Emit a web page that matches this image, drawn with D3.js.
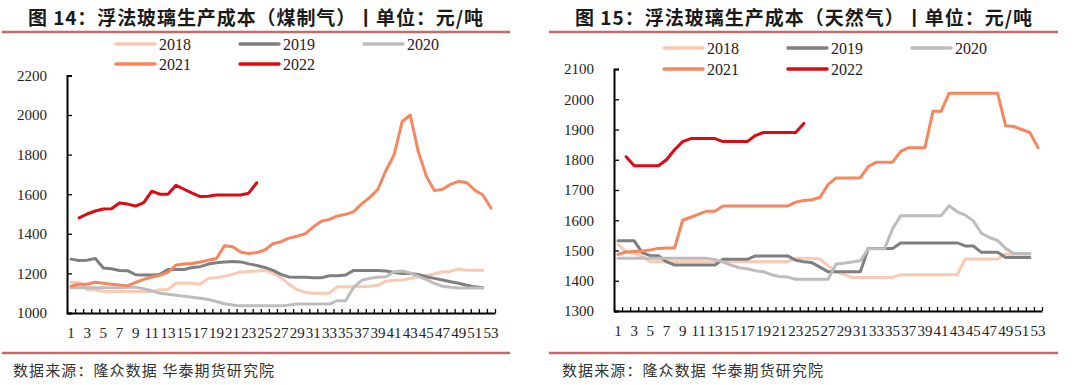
<!DOCTYPE html>
<html><head><meta charset="utf-8">
<script src="https://cdn.jsdelivr.net/npm/d3@7"></script>
<style>body{margin:0;background:#fff} svg{display:block}</style>
</head><body><svg id="c" width="1080" height="385"></svg>
<script>
// ---------- data ----------
const weeks = d3.range(1, 54);               // week numbers 1..53
const xTickWeeks = weeks.filter(w => w % 2 === 1);
const seriesNames = ["2018", "2019", "2020", "2021", "2022"];

// 图14 煤制气
const coalYTicks = [1000, 1200, 1400, 1600, 1800, 2000, 2200];
const coal2018 = [1155,1153,1118,1116,1110,1108,1108,1108,1108,1108,1108,1118,1118,1150,1152,1150,1145,1175,1178,1185,1195,1207,1209,1212,1215,1200,1180,1145,1118,1105,1100,1100,1100,1133,1133,1133,1133,1135,1140,1160,1165,1167,1175,1183,1190,1197,1208,1210,1222,1216,1216,1216];
const coal2019 = [1272,1265,1267,1275,1227,1223,1215,1214,1193,1192,1192,1195,1220,1220,1220,1230,1234,1247,1254,1258,1260,1258,1248,1240,1230,1215,1195,1182,1180,1180,1178,1178,1188,1188,1192,1215,1215,1215,1215,1212,1205,1200,1200,1195,1183,1175,1167,1158,1150,1140,1132,1128];
const coal2020 = [1128,1128,1128,1128,1128,1128,1128,1130,1130,1122,1112,1100,1095,1090,1085,1080,1075,1068,1058,1047,1040,1036,1036,1036,1036,1036,1036,1040,1045,1045,1045,1045,1045,1062,1062,1130,1165,1175,1180,1183,1208,1212,1202,1185,1168,1150,1135,1130,1126,1126,1126,1126];
const coal2021 = [1135,1145,1145,1155,1150,1145,1142,1137,1155,1170,1182,1190,1205,1242,1247,1250,1258,1266,1275,1340,1335,1308,1300,1305,1318,1350,1360,1378,1388,1400,1435,1463,1473,1490,1498,1512,1552,1584,1625,1720,1798,1966,2000,1815,1690,1618,1625,1650,1665,1658,1620,1596,1530];
const coal2022 = [null,1480,1500,1515,1525,1527,1555,1550,1540,1557,1615,1600,1600,1645,1625,1605,1588,1590,1596,1596,1596,1596,1605,1658];

// 图15 天然气
const gasYTicks = [1300, 1400, 1500, 1600, 1700, 1800, 1900, 2000, 2100];
const gas2018 = [1520,1496,1490,1482,1463,1463,1463,1463,1463,1463,1463,1463,1463,1463,1463,1463,1463,1463,1463,1463,1463,1463,1474,1474,1474,1472,1450,1430,1420,1411,1411,1411,1411,1411,1411,1420,1420,1420,1420,1420,1420,1420,1420,1472,1472,1472,1472,1472,1488,1488,1488,1488];
const gas2019 = [1532,1532,1532,1493,1483,1483,1463,1452,1452,1452,1452,1452,1452,1471,1471,1471,1471,1482,1482,1482,1482,1482,1468,1463,1460,1445,1430,1430,1430,1430,1430,1507,1507,1507,1507,1525,1525,1525,1525,1525,1525,1525,1525,1515,1515,1494,1494,1494,1477,1477,1477,1477];
const gas2020 = [1474,1474,1474,1474,1474,1474,1474,1474,1474,1474,1474,1474,1470,1462,1452,1443,1440,1433,1430,1420,1414,1412,1405,1405,1405,1405,1405,1455,1458,1462,1466,1506,1506,1506,1572,1615,1615,1615,1615,1615,1615,1648,1628,1617,1598,1557,1543,1533,1507,1490,1490,1490];
const gas2021 = [1487,1495,1497,1498,1502,1507,1508,1508,1600,1610,1620,1630,1630,1647,1647,1647,1647,1647,1647,1647,1647,1647,1660,1665,1668,1675,1718,1740,1740,1740,1740,1778,1792,1792,1792,1828,1840,1840,1840,1960,1960,2020,2020,2020,2020,2020,2020,2020,1912,1910,1900,1890,1840];
const gas2022 = [null,1810,1780,1780,1780,1780,1800,1833,1860,1870,1870,1870,1870,1860,1860,1860,1860,1880,1890,1890,1890,1890,1890,1920];

// ---------- styles ----------
const colors = ["#F9C9B3", "#7F7F7F", "#BDBDBD", "#F7865E", "#DC0A14"];
const ruleColor = "#C46A68";
const numFont = "'Liberation Serif','Times New Roman',serif";
const cjkFont = "'Noto Sans CJK SC','Noto Sans',sans-serif";

const svg = d3.select("#c");

function chart(opt) {
  const g = svg.append("g");
  const x = d3.scaleBand().domain(weeks).range([opt.x0, opt.x1]).padding(0);
  const xEdge = d3.scaleLinear().domain([0, weeks.length]).range([opt.x0, opt.x1]);
  const y = d3.scaleLinear().domain([opt.yTicks[0], opt.yTicks[opt.yTicks.length - 1]]).range([opt.yb, opt.yt]);

  // title
  g.append("text").attr("x", opt.titleX).attr("y", 25)
    .attr("textLength", opt.titleW).attr("lengthAdjust", "spacing")
    .style("font-family", cjkFont).style("font-weight", "bold").style("font-size", "19px")
    .style("fill", "#1a1a1a").text(opt.title);
  // rules
  [32, 353].forEach(yy => g.append("line").attr("x1", opt.ruleX0).attr("x2", opt.ruleX1)
    .attr("y1", yy).attr("y2", yy).attr("stroke", ruleColor).attr("stroke-width", 2.5));
  // source
  g.append("text").attr("x", opt.srcX).attr("y", 376).attr("textLength", 261)
    .attr("lengthAdjust", "spacing")
    .style("font-family", cjkFont).style("font-size", "15px").style("fill", "#333")
    .text("数据来源：隆众数据 华泰期货研究院");

  // legend
  seriesNames.forEach((name, i) => {
    const col = i < 3 ? i : i - 3;
    const row = i < 3 ? 0 : 1;
    const lx = opt.legX[col], ly = opt.legY[row];
    g.append("line").attr("x1", lx).attr("x2", lx + 39).attr("y1", ly).attr("y2", ly)
      .attr("stroke", colors[i]).attr("stroke-width", 3.5).attr("stroke-linecap", "round");
    g.append("text").attr("x", lx + 43).attr("y", ly + 5.5)
      .style("font-family", numFont).style("font-size", "16px").style("fill", "#222").text(name);
  });

  // y axis
  const ya = g.append("g").attr("transform", `translate(${opt.x0},0)`)
    .call(d3.axisLeft(y).tickValues(opt.yTicks).tickSize(-5).tickPadding(20).tickFormat(d3.format("d")));
  // x axis: boundary ticks
  const xa = g.append("g").attr("transform", `translate(0,${opt.yb})`)
    .call(d3.axisBottom(xEdge).tickValues(d3.range(0, weeks.length + 1)).tickSize(-4).tickSizeOuter(0).tickFormat(""));
  // x labels
  const xl = g.append("g").attr("transform", `translate(0,${opt.yb})`)
    .call(d3.axisBottom(x).tickValues(xTickWeeks).tickSize(0).tickPadding(14));
  xl.select(".domain").remove();
  [ya, xa, xl].forEach(a => {
    a.selectAll(".domain").attr("stroke", "#000").attr("stroke-width", 2);
    a.selectAll(".tick line").attr("stroke", "#000").attr("stroke-width", 1.3);
    a.selectAll("text").style("font-family", numFont).style("font-size", "15px").style("fill", "#222");
  });

  // lines
  const line = d3.line()
    .defined(d => d != null)
    .x((d, i) => x(weeks[i]) + x.bandwidth() / 2)
    .y(d => y(d));
  opt.series.forEach((s, i) => {
    g.append("path").datum(s).attr("d", line).attr("fill", "none")
      .attr("stroke", colors[i]).attr("stroke-width", 3)
      .attr("stroke-linejoin", "round").attr("stroke-linecap", "round");
  });
}

chart({
  title: "图 14：浮法玻璃生产成本（煤制气）丨单位：元/吨",
  titleX: 28, titleW: 455, ruleX0: 2, ruleX1: 510, srcX: 13,
  x0: 67, x1: 495, yb: 313, yt: 75.4, yTicks: coalYTicks,
  legX: [116, 240, 364], legY: [44, 64],
  series: [coal2018, coal2019, coal2020, coal2021, coal2022]
});
chart({
  title: "图 15：浮法玻璃生产成本（天然气）丨单位：元/吨",
  titleX: 575, titleW: 457, ruleX0: 549, ruleX1: 1058, srcX: 562,
  x0: 614, x1: 1042, yb: 311, yt: 69, yTicks: gasYTicks,
  legX: [664, 788, 912], legY: [48, 69],
  series: [gas2018, gas2019, gas2020, gas2021, gas2022]
});
</script></body></html>
